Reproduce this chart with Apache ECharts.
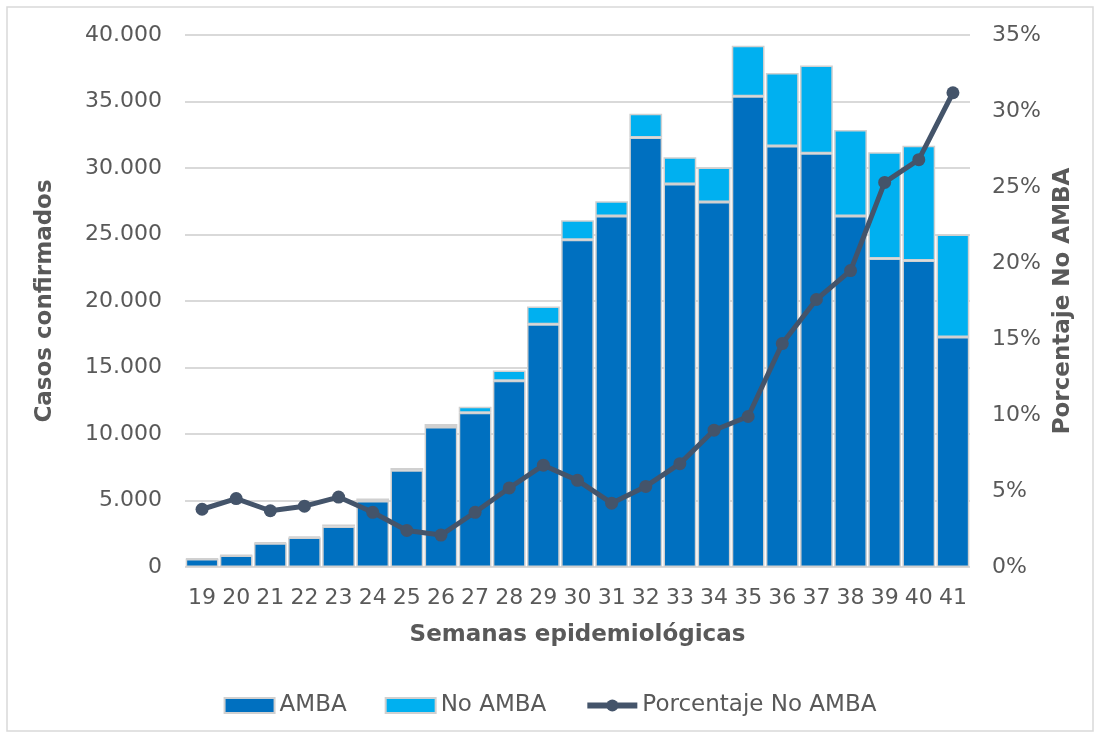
<!DOCTYPE html>
<html>
<head>
<meta charset="utf-8">
<script src="https://cdn.jsdelivr.net/npm/echarts@6/dist/echarts.min.js"></script>
<style>
  html, body { margin: 0; padding: 0; background: #fff; }
  #chart { width: 1100px; height: 736px; }
</style>
</head>
<body>
<div id="chart"></div>
<script>
// semanas epidemiológicas
var semanas = ['19', '20', '21', '22', '23', '24', '25', '26', '27', '28', '29', '30',
  '31', '32', '33', '34', '35', '36', '37', '38', '39', '40', '41']
// casos confirmados AMBA
var amba = [600, 860, 1780, 2210, 3050, 4960, 7270, 10520, 11600, 14000, 18250, 24600,
  26400, 32300, 28800, 27450, 35400, 31650, 31100, 26400, 23200, 23050, 17300]
// casos confirmados fuera del AMBA
var noAmba = [25, 40, 70, 90, 150, 190, 180, 230, 450, 780, 1330, 1480,
  1100, 1780, 2000, 2580, 3800, 5500, 6600, 6450, 7980, 8620, 7700]
// porcentaje No AMBA (%)
var porcentaje = [3.8, 4.5, 3.7, 4.0, 4.6, 3.6, 2.4, 2.1, 3.6, 5.2, 6.7, 5.7,
  4.2, 5.3, 6.8, 9.0, 9.9, 14.7, 17.6, 19.5, 25.3, 26.8, 31.2]

var fuente = '"DejaVu Sans", sans-serif'
var gris = '#595959'
var grisLinea = '#44546A'

var chart = echarts.init(document.getElementById('chart'))

chart.setOption({
  textStyle: { fontFamily: fuente },
  graphic: [{
    type: 'rect',
    shape: { x: 7, y: 7, width: 1086, height: 724 },
    style: { fill: 'none', stroke: '#d9d9d9', lineWidth: 1.5 },
    silent: true
  }],
  legend: {
    top: 689,
    left: 'center',
    itemGap: 38,
    itemWidth: 50,
    itemHeight: 15,
    textStyle: { fontSize: 23, color: gris, fontFamily: fuente },
    data: [
      { name: 'AMBA', icon: 'rect' },
      { name: 'No AMBA', icon: 'rect' },
      { name: 'Porcentaje No AMBA', lineStyle: { width: 6, color: grisLinea }, itemStyle: { color: grisLinea } }
    ]
  },
  grid: {
    left: 185,
    right: 130,
    top: 35,
    bottom: 169
  },
  xAxis: [{
    type: 'category',
    data: semanas,
    name: 'Semanas epidemiológicas',
    nameLocation: 'middle',
    nameGap: 57,
    nameTextStyle: { fontSize: 23, fontWeight: 'bold', color: gris },
    axisLine: { show: false },
    axisTick: { show: false },
    axisLabel: { fontSize: 22, color: gris, margin: 20, interval: 0 }
  }],
  yAxis: [{
    type: 'value',
    min: 0,
    max: 40000,
    interval: 5000,
    name: 'Casos confirmados',
    nameLocation: 'middle',
    nameGap: 128,
    nameTextStyle: { fontSize: 23, fontWeight: 'bold', color: gris },
    axisLine: { show: false },
    axisTick: { show: false },
    axisLabel: {
      fontSize: 22,
      color: gris,
      margin: 23,
      formatter: function (v) {
        return v === 0 ? '0' : (v / 1000) + '.000'
      }
    },
    splitLine: { lineStyle: { color: '#d9d9d9', width: 2 } }
  }, {
    type: 'value',
    min: 0,
    max: 35,
    interval: 5,
    name: 'Porcentaje No AMBA',
    nameLocation: 'middle',
    nameGap: 81,
    nameTextStyle: { fontSize: 23, fontWeight: 'bold', color: gris },
    axisLine: { show: false },
    axisTick: { show: false },
    axisLabel: { fontSize: 22, color: gris, margin: 22, formatter: '{value}%' },
    splitLine: { show: false }
  }],
  series: [{
    name: 'AMBA',
    type: 'bar',
    stack: 'casos',
    barCategoryGap: '4%',
    itemStyle: { color: '#0070C0', borderColor: '#d0d0d0', borderWidth: 1.5 },
    data: amba
  }, {
    name: 'No AMBA',
    type: 'bar',
    stack: 'casos',
    itemStyle: { color: '#00B0F0', borderColor: '#d0d0d0', borderWidth: 1.5 },
    data: noAmba
  }, {
    name: 'Porcentaje No AMBA',
    type: 'line',
    yAxisIndex: 1,
    symbol: 'circle',
    symbolSize: 13,
    lineStyle: { color: grisLinea, width: 5 },
    itemStyle: { color: grisLinea },
    data: porcentaje
  }]
})
</script>
</body>
</html>
